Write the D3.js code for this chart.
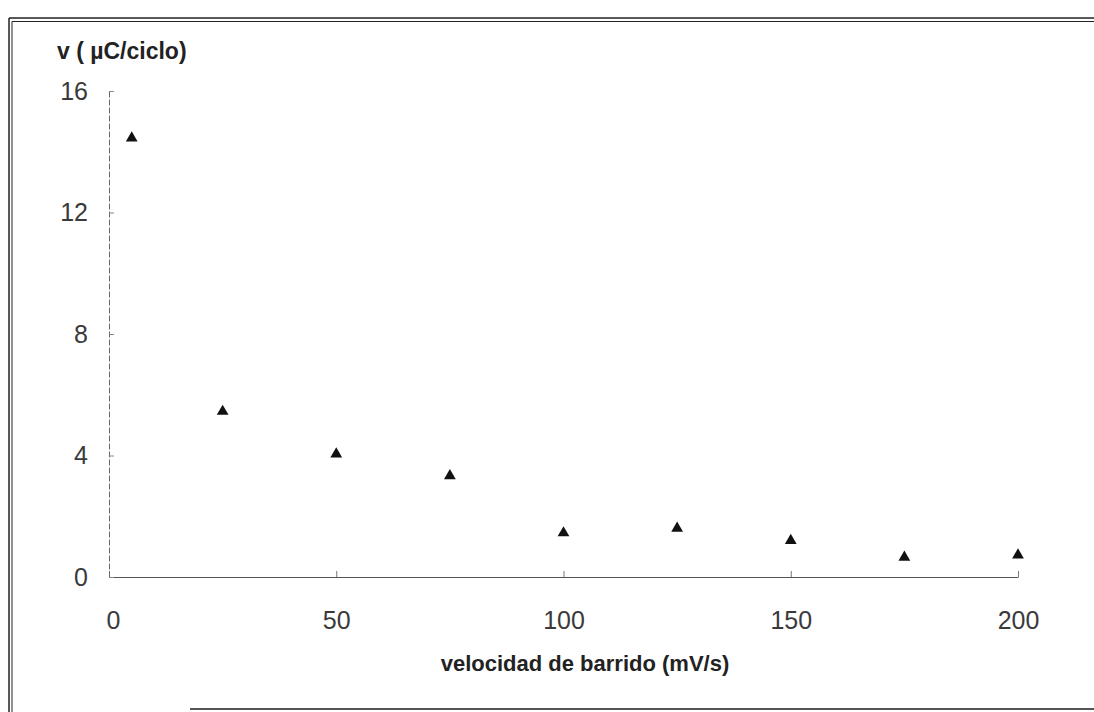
<!DOCTYPE html>
<html>
<head>
<meta charset="utf-8">
<script src="https://cdn.jsdelivr.net/npm/d3@7"></script>
<style>
  body { margin: 0; background: #fff; }
  text { font-family: "Liberation Sans", Arial, sans-serif; }
</style>
</head>
<body>
<div id="chart"></div>
<script>
// data
var sweepRates = [5, 25, 50, 75, 100, 125, 150, 175, 200];   // mV/s
var chargePerCycle = [14.45, 5.45, 4.05, 3.33, 1.45, 1.6, 1.2, 0.65, 0.72];  // µC/ciclo
var xTicks = [0, 50, 100, 150, 200];
var yTicks = [0, 4, 8, 12, 16];

var width = 1094, height = 712;
var margin = { top: 91, right: 76, bottom: 135, left: 109 };

var svg = d3.select("#chart")
  .append("svg")
  .attr("width", width)
  .attr("height", height);

// scanned page frame
var frame = svg.append("g").attr("stroke", "#222").attr("fill", "none");
frame.append("line").attr("x1", 9).attr("x2", width).attr("y1", 18).attr("y2", 18).attr("stroke-width", 1.5);
frame.append("line").attr("x1", 12).attr("x2", width).attr("y1", 21.5).attr("y2", 21.5).attr("stroke-width", 1.2);
frame.append("line").attr("x1", 9).attr("x2", 9).attr("y1", 18).attr("y2", height).attr("stroke-width", 1.5);
frame.append("line").attr("x1", 12).attr("x2", 12).attr("y1", 21.5).attr("y2", height).attr("stroke-width", 1);
frame.append("line").attr("x1", 190).attr("x2", width).attr("y1", 709).attr("y2", 709)
  .attr("stroke", "#555").attr("stroke-width", 2);

var g = svg.append("g")
  .attr("transform", "translate(" + margin.left + "," + margin.top + ")");

var innerW = width - margin.left - margin.right,
  innerH = height - margin.top - margin.bottom;

var x = d3.scaleLinear().domain([0, 200]).range([0, innerW]);
var y = d3.scaleLinear().domain([0, 16]).range([innerH, 0]);

// X axis
var xAxis = g.append("g")
  .attr("transform", "translate(0," + innerH + ")")
  .call(d3.axisBottom(x).tickValues(xTicks).tickSize(-6).tickSizeOuter(0).tickPadding(34));
xAxis.select(".domain").attr("stroke", "#555");
xAxis.selectAll(".tick line").attr("stroke", "#777");
xAxis.selectAll(".tick text")
  .attr("fill", "#3a3a3a")
  .style("font-size", "25px")
  .attr("dx", function(d) { return d == 0 ? 4 : 0; });

// Y axis
var yAxis = g.append("g")
  .call(d3.axisLeft(y).tickValues(yTicks).tickSize(-5).tickSizeOuter(0).tickPadding(21));
yAxis.select(".domain").attr("stroke", "#666").attr("stroke-dasharray", "6,2");
yAxis.selectAll(".tick line").attr("stroke", "#888");
yAxis.selectAll(".tick text")
  .attr("fill", "#3a3a3a")
  .style("font-size", "25px");

// axis titles
svg.append("text")
  .attr("x", 57)
  .attr("y", 59)
  .attr("fill", "#222")
  .style("font-size", "23px")
  .style("font-weight", "bold")
  .text("v ( µC/ciclo)");

svg.append("text")
  .attr("x", 585)
  .attr("y", 671)
  .attr("text-anchor", "middle")
  .attr("fill", "#222")
  .style("font-size", "22px")
  .style("font-weight", "bold")
  .text("velocidad de barrido (mV/s)");

// points
g.selectAll(".pt")
  .data(sweepRates)
  .enter()
  .append("path")
  .attr("class", "pt")
  .attr("d", d3.symbol().type(d3.symbolTriangle).size(60))
  .attr("transform", function(d, i) {
    return "translate(" + x(d) + "," + y(chargePerCycle[i]) + ")";
  })
  .attr("fill", "#111");
</script>
</body>
</html>
